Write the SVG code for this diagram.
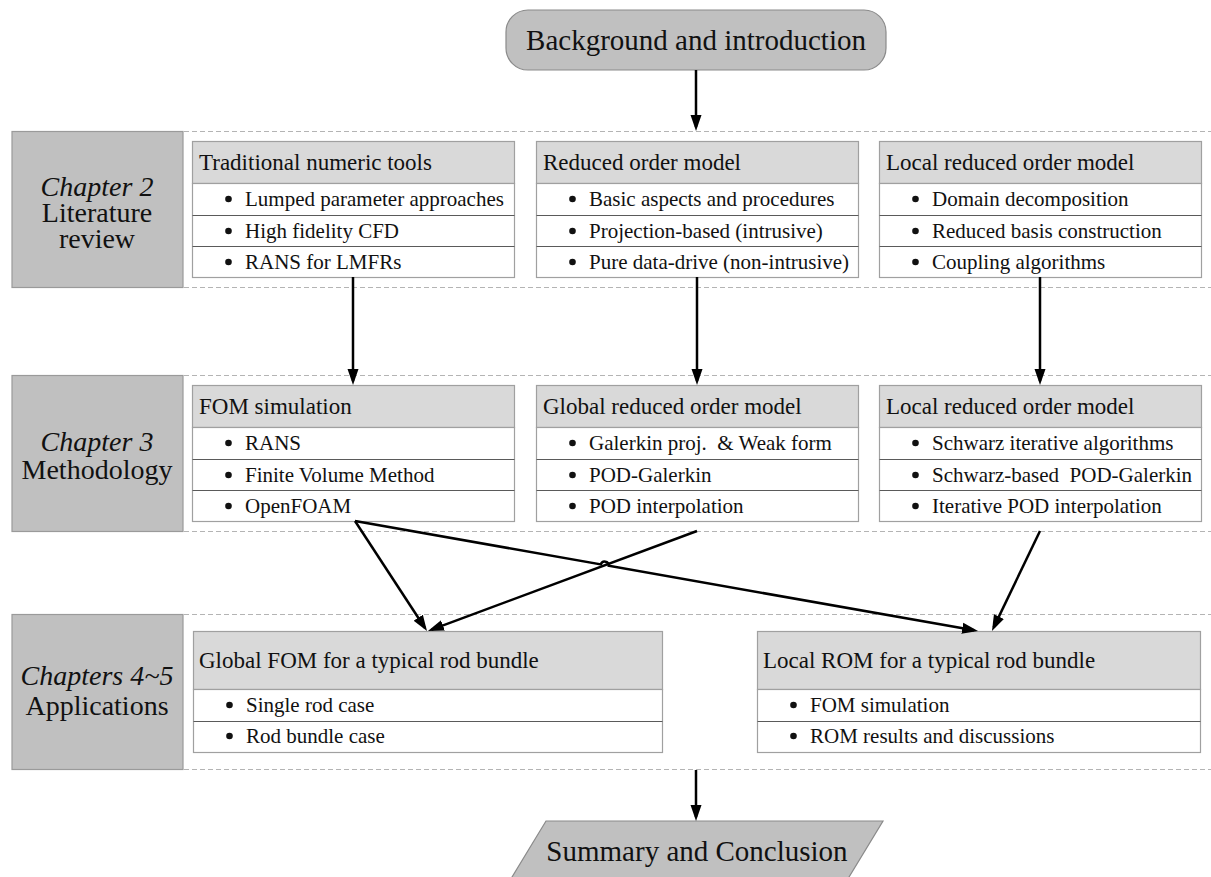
<svg xmlns="http://www.w3.org/2000/svg" width="1211" height="877" viewBox="0 0 1211 877" font-family="'Liberation Serif', 'Times New Roman', 'DejaVu Serif', serif">
  <style>
    .bg { fill: #ffffff; }
    .chap { fill: #c0c0c0; stroke: #9a9a9a; stroke-width: 1.2; }
    .chapt { font-size: 28px; fill: #111; text-anchor: middle; }
    .it { font-style: italic; }
    .sep { stroke: #b4b4b4; stroke-width: 1.2; stroke-dasharray: 5 3; fill: none; }
    .hdr { fill: #d9d9d9; stroke: #a0a0a0; stroke-width: 1.2; }
    .row { fill: #ffffff; stroke: #a0a0a0; stroke-width: 1.2; }
    .div { stroke: #5a5a5a; stroke-width: 1.2; }
    .ht { font-size: 23px; fill: #111; }
    .bt { font-size: 21px; fill: #111; }
    .dot { fill: #111; }
    .term { fill: #c0c0c0; stroke: #8a8a8a; stroke-width: 1.2; }
    .tt { font-size: 29px; fill: #111; text-anchor: middle; }
    .edge { stroke: #000; stroke-width: 2.5; fill: none; marker-end: url(#arr); }
  </style>
  <defs>
    <marker id="arr" markerUnits="userSpaceOnUse" markerWidth="17" markerHeight="12" refX="12" refY="6" orient="auto">
      <path d="M0,0.5 L16,6 L0,11.5 z" fill="#000"/>
    </marker>
  </defs>

  <rect class="bg" x="0" y="0" width="1211" height="877"/>

  <!-- horizontal dashed separators for each chapter band -->
  <g id="separators">
    <line class="sep" x1="184" y1="131.5" x2="1211" y2="131.5"/>
    <line class="sep" x1="184" y1="287.5" x2="1211" y2="287.5"/>
    <line class="sep" x1="184" y1="375.5" x2="1211" y2="375.5"/>
    <line class="sep" x1="184" y1="531.5" x2="1211" y2="531.5"/>
    <line class="sep" x1="184" y1="614.5" x2="1211" y2="614.5"/>
    <line class="sep" x1="184" y1="769.5" x2="1211" y2="769.5"/>
  </g>

  <!-- start terminal -->
  <g id="intro">
    <rect class="term" x="506" y="10" width="380" height="60" rx="22" ry="22"/>
    <text class="tt" x="696" y="50">Background and introduction</text>
  </g>

  <!-- chapter labels -->
  <g id="chapter2">
    <rect class="chap" x="12" y="131.5" width="171" height="156"/>
    <text class="chapt it" x="97" y="196">Chapter 2</text>
    <text class="chapt" x="97" y="222">Literature</text>
    <text class="chapt" x="97" y="248">review</text>
  </g>
  <g id="chapter3">
    <rect class="chap" x="12" y="375.5" width="171" height="156"/>
    <text class="chapt it" x="97" y="451">Chapter 3</text>
    <text class="chapt" x="97" y="479">Methodology</text>
  </g>
  <g id="chapter45">
    <rect class="chap" x="12" y="614.5" width="171" height="155"/>
    <text class="chapt it" x="97" y="685">Chapters 4~5</text>
    <text class="chapt" x="97" y="715">Applications</text>
  </g>

  <!-- Chapter 2 topics -->
  <g id="traditional-tools">
    <rect class="hdr" x="192.5" y="141.5" width="322" height="42"/>
    <rect class="row" x="192.5" y="183.5" width="322" height="94"/>
    <line class="div" x1="192.5" y1="215.5" x2="514.5" y2="215.5"/>
    <line class="div" x1="192.5" y1="246.5" x2="514.5" y2="246.5"/>
    <text class="ht" x="199" y="170">Traditional numeric tools</text>
    <circle class="dot" cx="228.5" cy="199" r="3.3"/>
    <text class="bt" x="245" y="206">Lumped parameter approaches</text>
    <circle class="dot" cx="228.5" cy="231" r="3.3"/>
    <text class="bt" x="245" y="238">High fidelity CFD</text>
    <circle class="dot" cx="228.5" cy="262" r="3.3"/>
    <text class="bt" x="245" y="269">RANS for LMFRs</text>
  </g>
  <g id="rom">
    <rect class="hdr" x="536.5" y="141.5" width="322" height="42"/>
    <rect class="row" x="536.5" y="183.5" width="322" height="94"/>
    <line class="div" x1="536.5" y1="215.5" x2="858.5" y2="215.5"/>
    <line class="div" x1="536.5" y1="246.5" x2="858.5" y2="246.5"/>
    <text class="ht" x="543" y="170">Reduced order model</text>
    <circle class="dot" cx="572.5" cy="199" r="3.3"/>
    <text class="bt" x="589" y="206">Basic aspects and procedures</text>
    <circle class="dot" cx="572.5" cy="231" r="3.3"/>
    <text class="bt" x="589" y="238">Projection-based (intrusive)</text>
    <circle class="dot" cx="572.5" cy="262" r="3.3"/>
    <text class="bt" x="589" y="269">Pure data-drive (non-intrusive)</text>
  </g>
  <g id="local-rom-review">
    <rect class="hdr" x="879.5" y="141.5" width="322" height="42"/>
    <rect class="row" x="879.5" y="183.5" width="322" height="94"/>
    <line class="div" x1="879.5" y1="215.5" x2="1201.5" y2="215.5"/>
    <line class="div" x1="879.5" y1="246.5" x2="1201.5" y2="246.5"/>
    <text class="ht" x="886" y="170">Local reduced order model</text>
    <circle class="dot" cx="915.5" cy="199" r="3.3"/>
    <text class="bt" x="932" y="206">Domain decomposition</text>
    <circle class="dot" cx="915.5" cy="231" r="3.3"/>
    <text class="bt" x="932" y="238">Reduced basis construction</text>
    <circle class="dot" cx="915.5" cy="262" r="3.3"/>
    <text class="bt" x="932" y="269">Coupling algorithms</text>
  </g>

  <!-- Chapter 3 topics -->
  <g id="fom-simulation">
    <rect class="hdr" x="192.5" y="385.5" width="322" height="42"/>
    <rect class="row" x="192.5" y="427.5" width="322" height="94"/>
    <line class="div" x1="192.5" y1="459.5" x2="514.5" y2="459.5"/>
    <line class="div" x1="192.5" y1="490.5" x2="514.5" y2="490.5"/>
    <text class="ht" x="199" y="414">FOM simulation</text>
    <circle class="dot" cx="228.5" cy="443" r="3.3"/>
    <text class="bt" x="245" y="450">RANS</text>
    <circle class="dot" cx="228.5" cy="475" r="3.3"/>
    <text class="bt" x="245" y="482">Finite Volume Method</text>
    <circle class="dot" cx="228.5" cy="506" r="3.3"/>
    <text class="bt" x="245" y="513">OpenFOAM</text>
  </g>
  <g id="global-rom">
    <rect class="hdr" x="536.5" y="385.5" width="322" height="42"/>
    <rect class="row" x="536.5" y="427.5" width="322" height="94"/>
    <line class="div" x1="536.5" y1="459.5" x2="858.5" y2="459.5"/>
    <line class="div" x1="536.5" y1="490.5" x2="858.5" y2="490.5"/>
    <text class="ht" x="543" y="414">Global reduced order model</text>
    <circle class="dot" cx="572.5" cy="443" r="3.3"/>
    <text class="bt" x="589" y="450">Galerkin proj.&#160; &amp; Weak form</text>
    <circle class="dot" cx="572.5" cy="475" r="3.3"/>
    <text class="bt" x="589" y="482">POD-Galerkin</text>
    <circle class="dot" cx="572.5" cy="506" r="3.3"/>
    <text class="bt" x="589" y="513">POD interpolation</text>
  </g>
  <g id="local-rom-method">
    <rect class="hdr" x="879.5" y="385.5" width="322" height="42"/>
    <rect class="row" x="879.5" y="427.5" width="322" height="94"/>
    <line class="div" x1="879.5" y1="459.5" x2="1201.5" y2="459.5"/>
    <line class="div" x1="879.5" y1="490.5" x2="1201.5" y2="490.5"/>
    <text class="ht" x="886" y="414">Local reduced order model</text>
    <circle class="dot" cx="915.5" cy="443" r="3.3"/>
    <text class="bt" x="932" y="450">Schwarz iterative algorithms</text>
    <circle class="dot" cx="915.5" cy="475" r="3.3"/>
    <text class="bt" x="932" y="482">Schwarz-based&#160; POD-Galerkin</text>
    <circle class="dot" cx="915.5" cy="506" r="3.3"/>
    <text class="bt" x="932" y="513">Iterative POD interpolation</text>
  </g>

  <!-- Chapters 4-5 applications -->
  <g id="global-fom-app">
    <rect class="hdr" x="193.5" y="631.5" width="469" height="58"/>
    <rect class="row" x="193.5" y="689.5" width="469" height="63"/>
    <line class="div" x1="193.5" y1="721.5" x2="662.5" y2="721.5"/>
    <text class="ht" x="199" y="668">Global FOM for a typical rod bundle</text>
    <circle class="dot" cx="229.5" cy="705" r="3.3"/>
    <text class="bt" x="246" y="712">Single rod case</text>
    <circle class="dot" cx="229.5" cy="736" r="3.3"/>
    <text class="bt" x="246" y="743">Rod bundle case</text>
  </g>
  <g id="local-rom-app">
    <rect class="hdr" x="757.5" y="631.5" width="443" height="58"/>
    <rect class="row" x="757.5" y="689.5" width="443" height="63"/>
    <line class="div" x1="757.5" y1="721.5" x2="1200.5" y2="721.5"/>
    <text class="ht" x="763" y="668">Local ROM for a typical rod bundle</text>
    <circle class="dot" cx="793.5" cy="705" r="3.3"/>
    <text class="bt" x="810" y="712">FOM simulation</text>
    <circle class="dot" cx="793.5" cy="736" r="3.3"/>
    <text class="bt" x="810" y="743">ROM results and discussions</text>
  </g>

  <!-- end terminal -->
  <g id="summary">
    <polygon class="term" points="546,821 883,821 846,882 509,882"/>
    <text class="tt" x="697" y="861">Summary and Conclusion</text>
  </g>

  <!-- connectors -->
  <g id="connectors">
    <line class="edge" x1="696" y1="70" x2="696" y2="127"/>
    <line class="edge" x1="353" y1="277" x2="353" y2="381"/>
    <line class="edge" x1="697" y1="277" x2="697" y2="381"/>
    <line class="edge" x1="1040" y1="277" x2="1040" y2="381"/>
    <line class="edge" x1="355" y1="521" x2="424.8" y2="627.7"/>
    <line class="edge" x1="697" y1="531" x2="431.7" y2="629.6"/>
    <path class="edge" d="M355,521 L600.9,564.4 A4,4 0 0 1 608.7,565.8 L974.1,630.3"/>
    <line class="edge" x1="1040" y1="531" x2="993.7" y2="627.4"/>
    <line class="edge" x1="696" y1="770" x2="696" y2="817"/>
  </g>
</svg>
